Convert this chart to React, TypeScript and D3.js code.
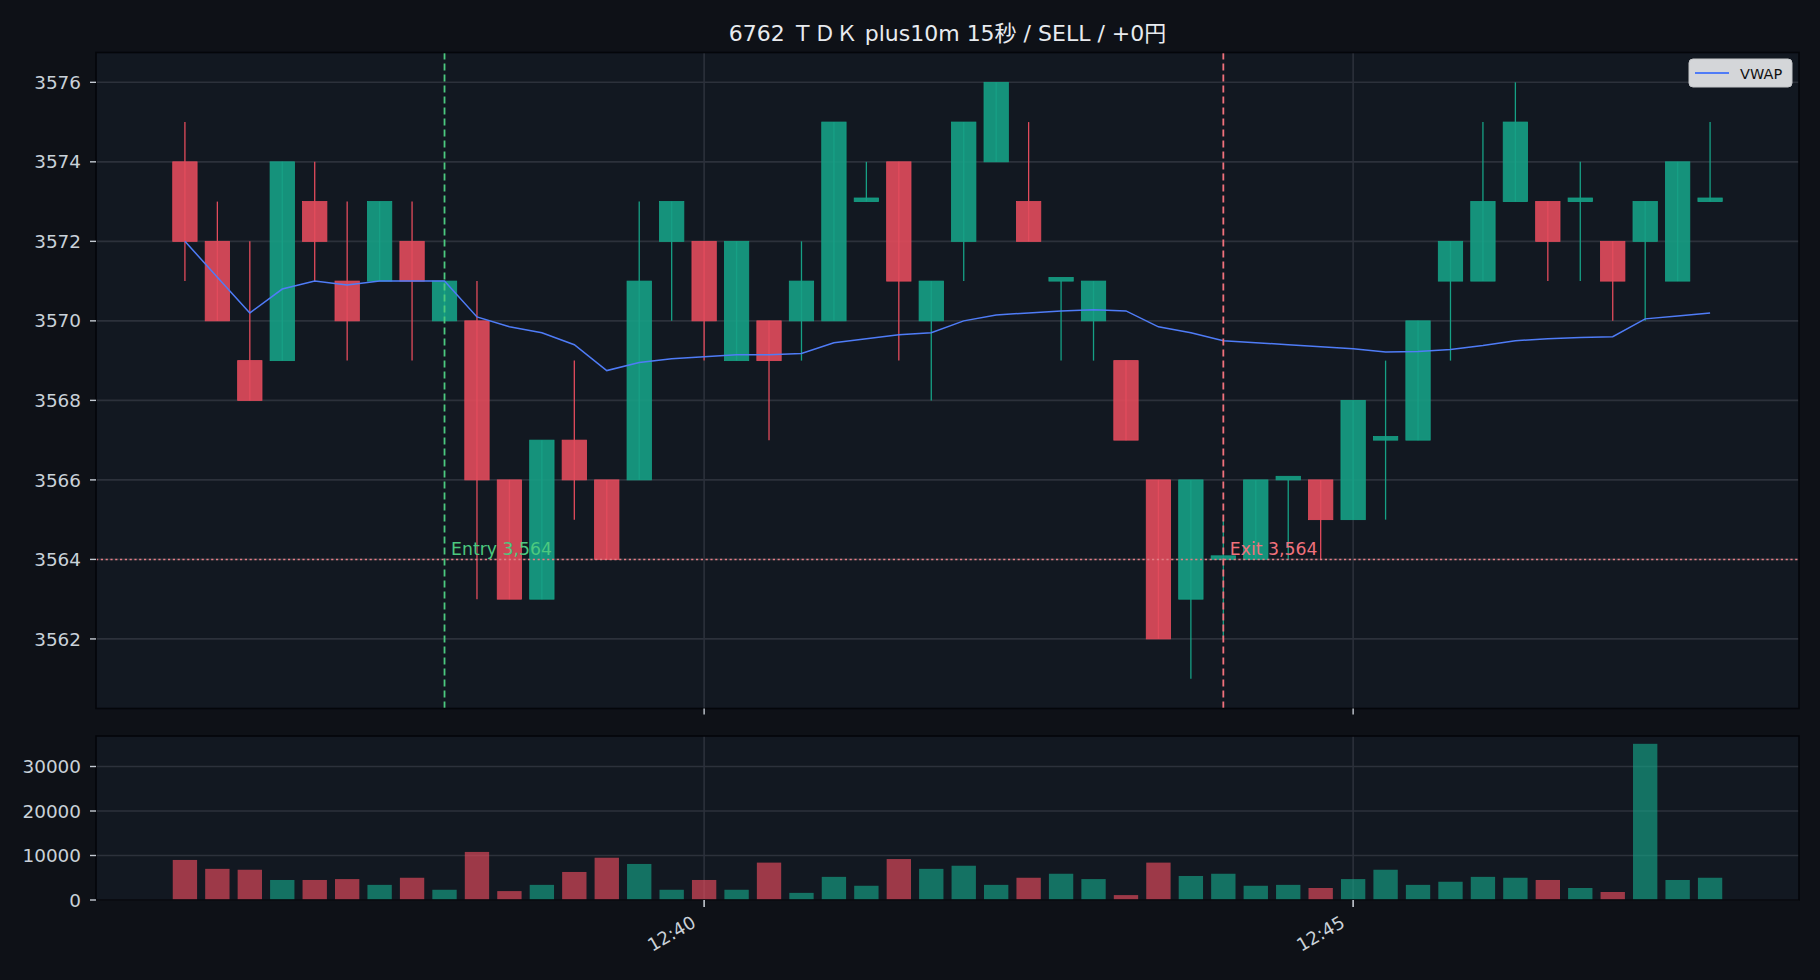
import React from "react";
import * as d3 from "d3";

// 15-second bars, 6762 session slice
const times = [
  "12:36:00", "12:36:15", "12:36:30", "12:36:45", "12:37:00", "12:37:15", "12:37:30", "12:37:45",
  "12:38:00", "12:38:15", "12:38:30", "12:38:45", "12:39:00", "12:39:15", "12:39:30", "12:39:45",
  "12:40:00", "12:40:15", "12:40:30", "12:40:45", "12:41:00", "12:41:15", "12:41:30", "12:41:45",
  "12:42:00", "12:42:15", "12:42:30", "12:42:45", "12:43:00", "12:43:15", "12:43:30", "12:43:45",
  "12:44:00", "12:44:15", "12:44:30", "12:44:45", "12:45:00", "12:45:15", "12:45:30", "12:45:45",
  "12:46:00", "12:46:15", "12:46:30", "12:46:45", "12:47:00", "12:47:15", "12:47:30", "12:47:45",
];
const opens = [
  3574, 3572, 3569, 3569, 3573, 3571, 3571, 3572, 3570, 3570, 3566, 3563, 3567, 3566, 3566, 3572,
  3572, 3569, 3570, 3570, 3570, 3573, 3574, 3570, 3572, 3574, 3573, 3571, 3570, 3569, 3566, 3563,
  3564, 3564, 3566, 3566, 3565, 3567, 3567, 3571, 3571, 3573, 3573, 3573, 3572, 3572, 3571, 3573,
];
const highs = [
  3575, 3573, 3572, 3574, 3574, 3573, 3573, 3573, 3571, 3571, 3566, 3567, 3569, 3566, 3573, 3573,
  3572, 3572, 3570, 3572, 3575, 3574, 3574, 3571, 3575, 3576, 3575, 3571, 3571, 3569, 3566, 3566,
  3565, 3566, 3566, 3566, 3568, 3569, 3570, 3572, 3575, 3576, 3573, 3574, 3572, 3573, 3574, 3575,
];
const lows = [
  3571, 3570, 3568, 3569, 3571, 3569, 3571, 3569, 3570, 3563, 3563, 3563, 3565, 3564, 3566, 3570,
  3569, 3569, 3567, 3569, 3570, 3573, 3569, 3568, 3571, 3574, 3572, 3569, 3569, 3567, 3562, 3561,
  3562, 3564, 3564, 3564, 3565, 3565, 3567, 3569, 3571, 3573, 3571, 3571, 3570, 3570, 3571, 3573,
];
const closes = [
  3572, 3570, 3568, 3574, 3572, 3570, 3573, 3571, 3571, 3566, 3563, 3567, 3566, 3564, 3571, 3573,
  3570, 3572, 3569, 3571, 3575, 3573, 3571, 3571, 3575, 3576, 3572, 3571, 3571, 3567, 3562, 3566,
  3564, 3566, 3566, 3565, 3568, 3567, 3570, 3572, 3573, 3575, 3572, 3573, 3571, 3573, 3574, 3573,
];
const volumes = [
  9000, 7000, 6800, 4500, 4500, 4700, 3400, 5000, 2300, 10800, 2000, 3400, 6300, 9500, 8100, 2300,
  4500, 2300, 8400, 1600, 5200, 3200, 9200, 7000, 7700, 3400, 5000, 5900, 4700, 1100, 8400, 5400,
  5900, 3200, 3400, 2700, 4700, 6800, 3400, 4100, 5200, 5000, 4500, 2700, 1800, 35100, 4500, 5000,
];
const vwap = [
  3572.0, 3571.1, 3570.2, 3570.8, 3571.0, 3570.9, 3571.0, 3571.0, 3571.0, 3570.1, 3569.85, 3569.7,
  3569.4, 3568.75, 3568.95, 3569.05, 3569.1, 3569.15, 3569.15, 3569.18, 3569.45, 3569.55, 3569.65, 3569.7,
  3570.0, 3570.15, 3570.2, 3570.25, 3570.28, 3570.25, 3569.85, 3569.7, 3569.5, 3569.45, 3569.4, 3569.35,
  3569.3, 3569.22, 3569.23, 3569.28, 3569.38, 3569.5, 3569.55, 3569.58, 3569.6, 3570.05, 3570.12, 3570.2,
];

const priceTicks = [3562, 3564, 3566, 3568, 3570, 3572, 3574, 3576];
const volumeTicks = [0, 10000, 20000, 30000];
const timeTicks = ["12:40:00", "12:45:00"];

const entryTime = "12:38:00";
const exitTime = "12:44:00";
const entryPrice = 3564;
const exitPrice = 3564;
const titleText = "6762 ＴＤＫ plus10m 15秒 / SELL / +0円";

const W = 1820;
const H = 980;
const FONT = "'DejaVu Sans', 'Noto Sans CJK JP', sans-serif";

const C = {
  fig: "#0e1117",
  ax: "#121821",
  grid: "#2c313b",
  spine: "#04060a",
  tick: "#c3c9d1",
  text: "#c9d1d9",
  title: "#e8ebef",
  up: "#16a085",
  down: "#e24b5c",
  vwap: "#4f7cf7",
  entry: "#4cc97f",
  exit: "#f0717c",
  level: "#e27c84",
};

const parse = d3.timeParse("%H:%M:%S");
const fmt = d3.timeFormat("%H:%M");
const BAR_MS = 15000;

export default function App() {
  const dates = times.map((t) => parse(t) as Date);
  const pad = 2.74 * BAR_MS;
  const main = { left: 96, right: 1799, top: 52.5, bottom: 708.5 };
  const vol = { top: 736, bottom: 900 };

  const x = d3
    .scaleTime()
    .domain([new Date(+dates[0] - pad), new Date(+dates[dates.length - 1] + pad)])
    .range([main.left, main.right]);
  const bodyW = x(new Date(+dates[0] + BAR_MS * 0.75)) - x(dates[0]);

  const lo = d3.min(lows) as number;
  const hi = d3.max(highs) as number;
  const m = (hi - lo) * 0.05;
  const y = d3.scaleLinear().domain([lo - m, hi + m]).range([main.bottom, main.top]);

  const vmax = (d3.max(volumes) as number) * 1.05;
  const yv = d3.scaleLinear().domain([0, vmax]).range([vol.bottom, vol.top]);

  const tickDates = timeTicks.map((t) => parse(t) as Date);
  const entryX = x(parse(entryTime) as Date);
  const exitX = x(parse(exitTime) as Date);

  const line = d3
    .line<number>()
    .x((_, i) => x(dates[i]))
    .y((d) => y(d));

  const minBody = 0.09;

  return (
    <svg
      width={W}
      height={H}
      style={{ position: "absolute", left: 0, top: 0, display: "block" }}
      fontFamily={FONT}
    >
      <rect x={0} y={0} width={W} height={H} fill={C.fig} />

      <text x={(main.left + main.right) / 2} y={41} fill={C.title} fontSize={22} textAnchor="middle">
        {titleText}
      </text>

      {/* price panel */}
      <rect x={main.left} y={main.top} width={main.right - main.left} height={main.bottom - main.top} fill={C.ax} />
      {priceTicks.map((p) => (
        <line key={"pg" + p} x1={main.left} x2={main.right} y1={y(p)} y2={y(p)} stroke={C.grid} strokeWidth={1.6} />
      ))}
      {tickDates.map((d, i) => (
        <line key={"vg" + i} x1={x(d)} x2={x(d)} y1={main.top} y2={main.bottom} stroke={C.grid} strokeWidth={1.6} />
      ))}

      {dates.map((d, i) => {
        const up = closes[i] >= opens[i];
        const col = up ? C.up : C.down;
        const cx = x(d);
        const top = Math.max(opens[i], closes[i]);
        const bot = Math.min(opens[i], closes[i]);
        const yTop = y(Math.max(top, bot + minBody));
        const yBot = y(bot);
        return (
          <g key={"c" + i}>
            <line x1={cx} x2={cx} y1={y(highs[i])} y2={y(lows[i])} stroke={col} strokeWidth={1.3} />
            <rect
              x={cx - bodyW / 2}
              y={yTop}
              width={bodyW}
              height={yBot - yTop}
              fill={col}
              fillOpacity={0.9}
              stroke={col}
              strokeWidth={0.8}
            />
          </g>
        );
      })}

      <path d={line(vwap) || ""} fill="none" stroke={C.vwap} strokeWidth={1.5} />

      <line
        x1={main.left}
        x2={main.right}
        y1={y(entryPrice)}
        y2={y(entryPrice)}
        stroke={C.level}
        strokeWidth={1.5}
        strokeDasharray="2.2,2.6"
      />
      <line x1={entryX} x2={entryX} y1={main.top} y2={main.bottom} stroke={C.entry} strokeWidth={1.8} strokeDasharray="7,4" />
      <line x1={exitX} x2={exitX} y1={main.top} y2={main.bottom} stroke={C.exit} strokeWidth={1.8} strokeDasharray="7,4" />
      <text x={entryX + 6.5} y={y(entryPrice) - 4.5} fill={C.entry} fontSize={17.3}>
        {`Entry ${d3.format(",")(entryPrice)}`}
      </text>
      <text x={exitX + 6.5} y={y(exitPrice) - 4.5} fill={C.exit} fontSize={17.3}>
        {`Exit ${d3.format(",")(exitPrice)}`}
      </text>

      {/* legend */}
      <g>
        <rect x={1689} y={59} width={103} height={28} rx={4} fill="#d4d6d9" stroke="#c4c6c9" strokeWidth={1} />
        <line x1={1695} x2={1729} y1={73} y2={73} stroke={C.vwap} strokeWidth={1.8} />
        <text x={1740} y={78.5} fill="#111111" fontSize={14.5}>
          VWAP
        </text>
      </g>

      <rect
        x={main.left}
        y={main.top}
        width={main.right - main.left}
        height={main.bottom - main.top}
        fill="none"
        stroke={C.spine}
        strokeWidth={1.6}
      />
      {priceTicks.map((p) => (
        <g key={"pt" + p}>
          <line x1={main.left - 6} x2={main.left} y1={y(p)} y2={y(p)} stroke={C.tick} strokeWidth={1.4} />
          <text x={81} y={y(p)} dy="0.36em" fill={C.text} fontSize={18.4} textAnchor="end">
            {p}
          </text>
        </g>
      ))}
      {tickDates.map((d, i) => (
        <line key={"mt" + i} x1={x(d)} x2={x(d)} y1={main.bottom} y2={main.bottom + 6} stroke={C.tick} strokeWidth={1.4} />
      ))}

      {/* volume panel */}
      <rect x={main.left} y={vol.top} width={main.right - main.left} height={vol.bottom - vol.top} fill={C.ax} />
      {volumeTicks.map((v) => (
        <line key={"vgl" + v} x1={main.left} x2={main.right} y1={yv(v)} y2={yv(v)} stroke={C.grid} strokeWidth={1.6} />
      ))}
      {tickDates.map((d, i) => (
        <line key={"vvg" + i} x1={x(d)} x2={x(d)} y1={vol.top} y2={vol.bottom} stroke={C.grid} strokeWidth={1.6} />
      ))}
      {dates.map((d, i) => {
        const up = closes[i] >= opens[i];
        return (
          <rect
            key={"v" + i}
            x={x(d) - bodyW / 2}
            y={yv(volumes[i])}
            width={bodyW}
            height={yv(0) - yv(volumes[i])}
            fill={up ? C.up : C.down}
            fillOpacity={0.67}
          />
        );
      })}
      <rect
        x={main.left}
        y={vol.top}
        width={main.right - main.left}
        height={vol.bottom - vol.top}
        fill="none"
        stroke={C.spine}
        strokeWidth={1.6}
      />
      {volumeTicks.map((v) => (
        <g key={"vt" + v}>
          <line x1={main.left - 6} x2={main.left} y1={yv(v)} y2={yv(v)} stroke={C.tick} strokeWidth={1.4} />
          <text x={81} y={yv(v)} dy="0.36em" fill={C.text} fontSize={18.4} textAnchor="end">
            {v}
          </text>
        </g>
      ))}
      {tickDates.map((d, i) => {
        const tx = x(d);
        return (
          <g key={"xt" + i}>
            <line x1={tx} x2={tx} y1={vol.bottom} y2={vol.bottom + 7} stroke={C.tick} strokeWidth={1.6} />
            <text
              transform={`translate(${tx - 7},${vol.bottom + 26}) rotate(-30)`}
              fill={C.text}
              fontSize={18}
              textAnchor="end"
            >
              {fmt(d)}
            </text>
          </g>
        );
      })}
    </svg>
  );
}
